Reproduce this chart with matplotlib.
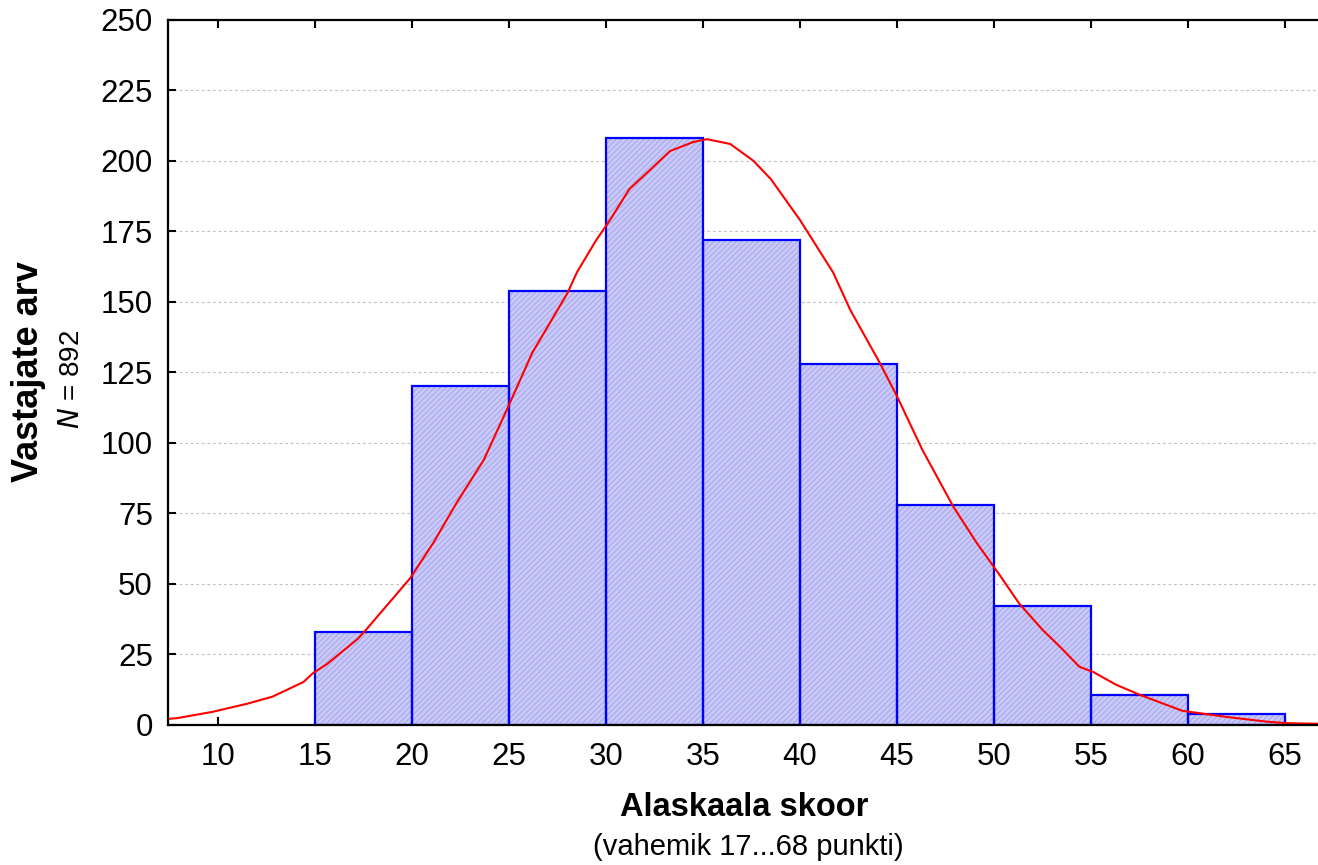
import matplotlib
matplotlib.use("Agg")
import matplotlib.pyplot as plt

plt.rcParams['font.family'] = ['Liberation Sans', 'DejaVu Sans']
plt.rcParams['hatch.linewidth'] = 0.6

# histogram: bins of width 5, counts
bin_left = [15, 20, 25, 30, 35, 40, 45, 50, 55, 60]
counts = [33, 120, 154, 208, 172, 128, 78, 42, 10.7, 3.9]
bin_width = 5

# fitted normal curve
curve_x = [7.4, 7.9, 9.7, 11.5, 12.8, 14.4, 14.9, 15.6, 16.4, 17.2, 17.6,
           19.9, 21.1, 22.3, 23.7, 24.9, 26.2, 28.0, 28.5, 29.5, 30.2,
           31.2, 32.3, 33.3, 34.5, 35.2, 36.4, 37.6, 38.5, 40.0, 41.7,
           42.6, 44.1, 45.0, 46.3, 47.9, 49.1, 50.2, 51.3, 52.5, 53.4,
           54.4, 55.1, 56.3, 57.5, 59.7, 62.0, 64.1, 65.1, 66.7]
curve_y = [2.1, 2.4, 4.6, 7.5, 10.0, 15.2, 18.4, 21.5, 26.0, 30.5, 33.5,
           52.0, 64.6, 78.8, 94.0, 112.0, 132.0, 153.0, 160.5, 172.0, 179.0,
           190.0, 197.0, 203.5, 206.7, 207.7, 206.0, 200.0, 193.5, 179.0, 160.5,
           147.0, 128.5, 116.5, 97.6, 77.4, 64.6, 54.0, 43.0, 33.7, 27.7,
           20.6, 18.8, 14.2, 10.7, 5.0, 2.8, 1.1, 0.6, 0.4]

x_ticks = [10, 15, 20, 25, 30, 35, 40, 45, 50, 55, 60, 65]
y_ticks = [0, 25, 50, 75, 100, 125, 150, 175, 200, 225, 250]

fig = plt.figure(figsize=(13.18, 8.65), dpi=100)
ax = fig.add_axes([0.1275, 0.162, 0.8725, 0.815])

# grid lines (dotted, only inner ticks)
for y in y_ticks[1:-1]:
    ax.axhline(y, color='#c0c0c0', lw=0.8, ls=(0, (2.5, 2.5)), zorder=0)

# hatched fill then blue outline
ax.bar(bin_left, counts, width=bin_width, align='edge',
       color='#c8c8f9', edgecolor='#a0a0ea', hatch='//////', lw=0, zorder=2)
ax.bar(bin_left, counts, width=bin_width, align='edge',
       fill=False, edgecolor='#0000ff', lw=1.6, zorder=3)

ax.plot(curve_x, curve_y, color='#ff0000', lw=1.5, zorder=4)

ax.set_xlim(7.42, 66.7)
ax.set_ylim(0, 250)
ax.set_xticks(x_ticks)
ax.set_yticks(y_ticks)
ax.tick_params(axis='both', direction='in', length=6, width=1.5,
               labelsize=22.5)
ax.tick_params(axis='x', top=True, pad=12)
ax.tick_params(axis='y', pad=11)

for side in ['left', 'bottom', 'top']:
    ax.spines[side].set_linewidth(1.6)
    ax.spines[side].set_zorder(5)
ax.spines['right'].set_visible(False)

# axis titles
fig.text(0.565, 0.067, 'Alaskaala skoor', ha='center', va='center',
         fontsize=23.5, fontweight='bold')
fig.text(0.568, 0.021, '(vahemik 17...68 punkti)', ha='center',
         va='center', fontsize=21)
fig.text(0.022, 0.571, 'Vastajate arv', rotation=90, ha='center',
         va='center', fontsize=26, fontweight='bold')
fig.text(0.055, 0.561, '$\\it{N}$ = 892', rotation=90, ha='center',
         va='center', fontsize=20)

fig.savefig('out.png', dpi=100)
